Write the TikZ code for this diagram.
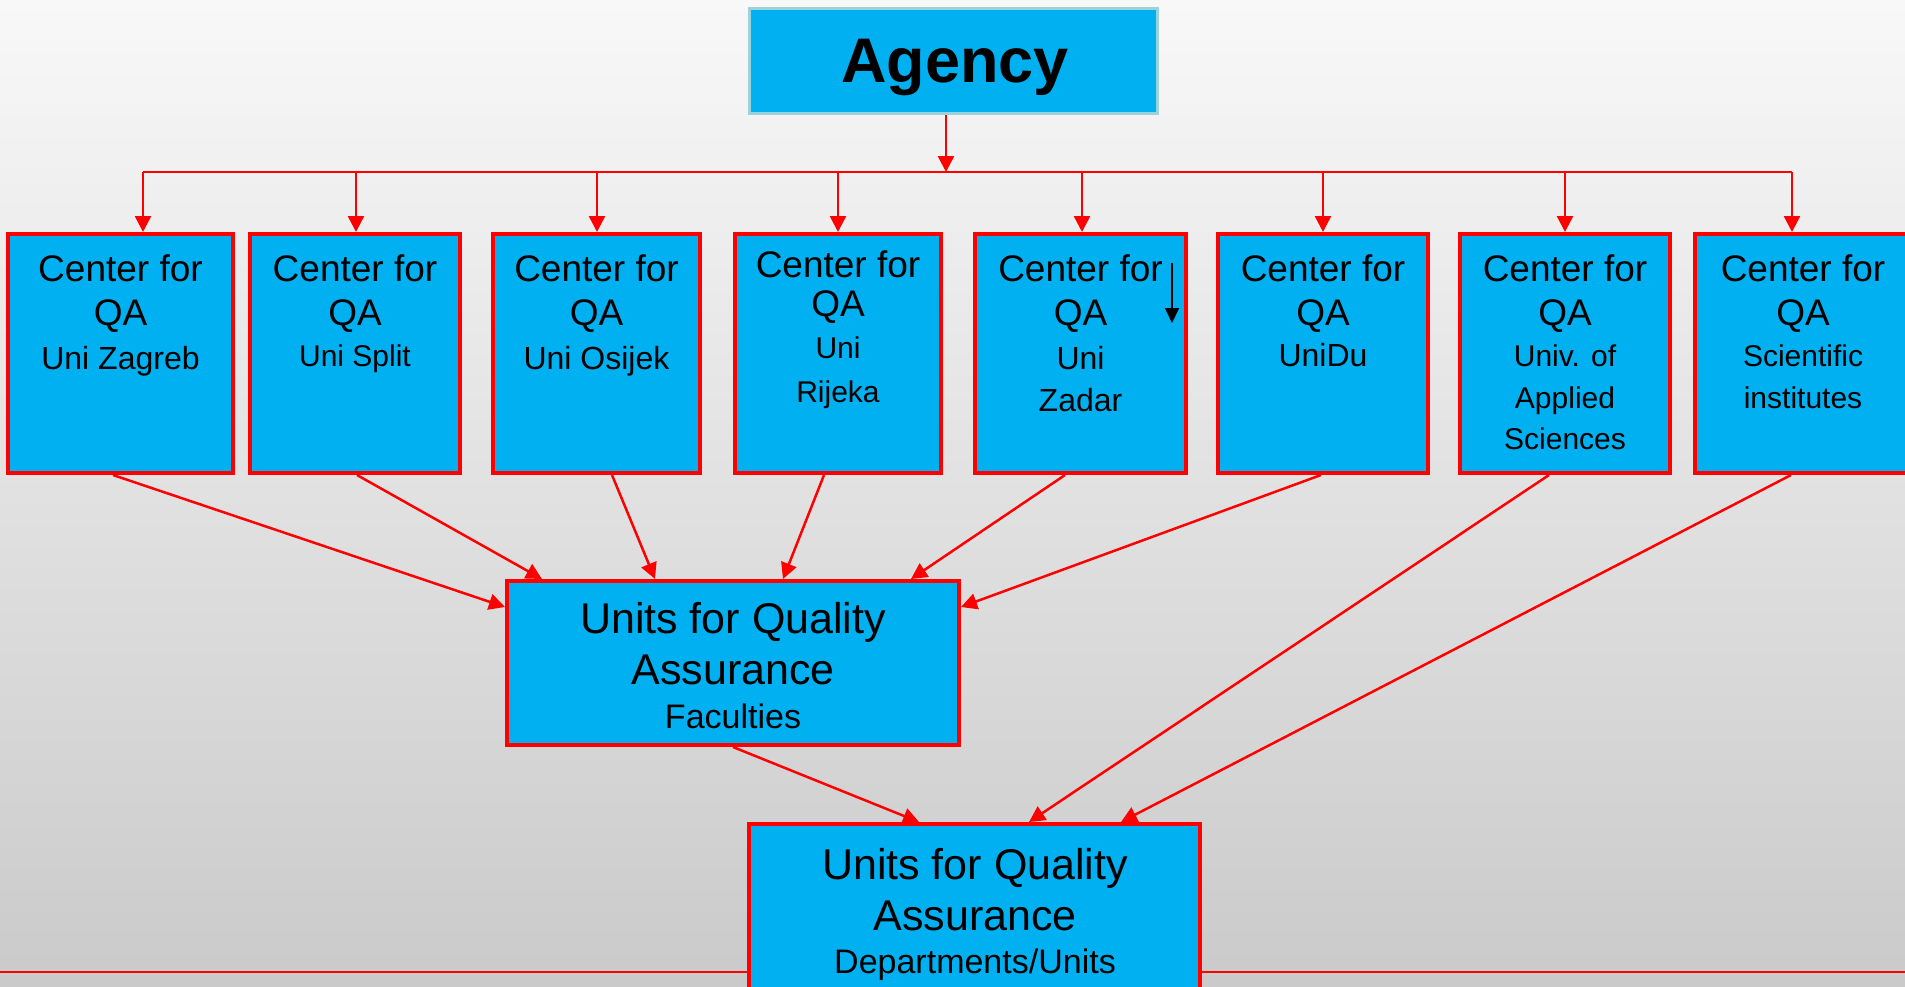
\documentclass[tikz,border=0pt]{standalone}
\usepackage{fontspec}
\setmainfont{Liberation Sans}
\usetikzlibrary{arrows.meta,calc}
\definecolor{qblue}{HTML}{00B0F0}
\definecolor{qred}{HTML}{FF0000}
\definecolor{qteal}{HTML}{9CD2DB}
\definecolor{bgtop}{HTML}{F8F8F8}
\definecolor{bgbot}{HTML}{CACACA}
\newcommand{\bigf}{\fontsize{37}{44}\selectfont}
\newcommand{\subf}{\fontsize{32}{44}\selectfont}
\newcommand{\arf}{\fontsize{30}{44}\selectfont}
\newcommand{\unif}{\fontsize{43}{51}\selectfont}
\newcommand{\lowf}{\fontsize{34}{40}\selectfont}
\begin{document}
\begin{tikzpicture}[x=1pt,y=-1pt,
  cbox/.style={draw=qred, line width=4pt, fill=qblue, inner sep=0pt, minimum height=239pt},
  ubox/.style={draw=qred, line width=4pt, fill=qblue, inner sep=0pt},
  abox/.style={draw=qteal, line width=3pt, fill=qblue, inner sep=0pt},
  ctext/.style={anchor=north, inner sep=0pt, align=center, font=\bigf},
  utext/.style={anchor=north, inner sep=0pt, align=center, font=\unif},
  arr/.style={draw=qred, line width=2.5pt, -{Triangle[length=16pt,width=16pt]}},
  busline/.style={draw=qred, line width=2pt},
  karr/.style={draw=black, line width=1.5pt, -{Triangle[length=15pt,width=14pt]}}
]
\useasboundingbox (0,0) rectangle (1905,986);
\clip (0,0) rectangle (1905,986);
\shade[top color=bgtop, bottom color=bgbot] (0,0) rectangle (1905,986);

% bottom horizontal line
\coordinate (ll) at (0,972);
\coordinate (lr) at (1905,972);
\draw[busline, line width=2.5pt] (ll) -- (lr);

% agency
\node[abox, minimum width=408pt, minimum height=105pt] (agency) at (953.5,61) {};
\node[anchor=base, inner sep=0pt, font=\fontsize{63}{70}\selectfont\bfseries] (agencyt) at (955,82) {Agency};

% centers
\node[cbox, minimum width=225pt] (zag) at (120.5,353.5) {};
\node[cbox, minimum width=210pt] (spl) at (355,353.5) {};
\node[cbox, minimum width=207pt] (osi) at (596.5,353.5) {};
\node[cbox, minimum width=206pt] (rij) at (838,353.5) {};
\node[cbox, minimum width=211pt] (zad) at (1080.5,353.5) {};
\node[cbox, minimum width=210pt] (dub) at (1323,353.5) {};
\node[cbox, minimum width=210pt] (app) at (1565,353.5) {};
\node[cbox, minimum width=216pt] (sci) at (1803,353.5) {};

% unit boxes
\node[ubox, minimum width=452pt, minimum height=164pt] (fac) at (733,663) {};
\node[ubox, minimum width=451pt, minimum height=190pt] (dep) at (974.5,919) {};

% bus
\coordinate (b1) at (143,172);
\coordinate (b2) at (356,172);
\coordinate (b3) at (597,172);
\coordinate (b4) at (838,172);
\coordinate (b5) at (1082,172);
\coordinate (b6) at (1323,172);
\coordinate (b7) at (1565,172);
\coordinate (b8) at (1792,172);
\coordinate (ag) at ($(agency.south)+(-7.5,0)$);
\draw[busline] (b1) -- (b8);
\draw[arr] (ag) -- (ag |- b1);
\draw[arr] (b1) -- (b1 |- zag.north);
\draw[arr] (b2) -- (b2 |- spl.north);
\draw[arr] (b3) -- (b3 |- osi.north);
\draw[arr] (b4) -- (b4 |- rij.north);
\draw[arr] (b5) -- (b5 |- zad.north);
\draw[arr] (b6) -- (b6 |- dub.north);
\draw[arr] (b7) -- (b7 |- app.north);
\draw[arr] (b8) -- (b8 |- sci.north);

% to faculties
\draw[arr] ($(zag.south)+(-7.5,0)$) -- ($(fac.north west)+(0,28)$);
\draw[arr] ($(spl.south)+(2,0)$) -- ($(fac.north west)+(37,0)$);
\draw[arr] ($(osi.south)+(15.5,0)$) -- ($(fac.north west)+(150,0)$);
\draw[arr] ($(rij.south)+(-14,0)$) -- ($(fac.north west)+(278,0)$);
\draw[arr] ($(zad.south)+(-15.5,0)$) -- ($(fac.north west)+(406,0)$);
\draw[arr] ($(dub.south)+(-2,0)$) -- ($(fac.north east)+(0,28)$);
% to departments
\draw[arr] ($(app.south)+(-16,0)$) -- ($(dep.north west)+(282,0)$);
\draw[arr] ($(sci.south)+(-12,0)$) -- ($(dep.north west)+(374,0)$);
\draw[arr] (fac.south) -- ($(dep.north west)+(172,0)$);

% black arrow in Zadar box
\coordinate (ka) at (1172,263);
\coordinate (kb) at (1172,323);
\draw[karr] (ka) -- (kb);

% texts
\node[ctext] (zagt) at (120.5,255) {Center for\\QA\\{\subf Uni Zagreb}};
\node[ctext] (splt) at (355,255) {Center for\\QA\\[-3pt]{\arf Uni Split}};
\node[ctext] (osit) at (596.5,255) {Center for\\QA\\{\subf Uni Osijek}};
\node[ctext] (rijt) at (838,251) {Center for\\[-5pt]QA\\[-2pt]{\arf Uni}\\{\arf Rijeka}};
\node[ctext] (zadt) at (1080.5,255) {Center for\\QA\\{\subf Uni}\\[-2pt]{\subf Zadar}};
\node[ctext] (dubt) at (1323,255) {Center for\\QA\\[-3pt]{\subf UniDu}};
\node[ctext] (appt) at (1565,255) {Center for\\QA\\[-3pt]{\arf Univ. of}\\[-2pt]{\arf Applied}\\[-3pt]{\arf Sciences}};
\node[ctext] (scit) at (1803,255) {Center for\\QA\\[-3pt]{\arf Scientific}\\[-2pt]{\arf institutes}};

\node[utext] (fact) at (733,602) {Units for Quality\\Assurance\\[-7pt]{\lowf Faculties}};
\node[utext] (dept) at (975,848) {Units for Quality\\Assurance\\[-8pt]{\lowf Departments/Units}};
\end{tikzpicture}
\end{document}
